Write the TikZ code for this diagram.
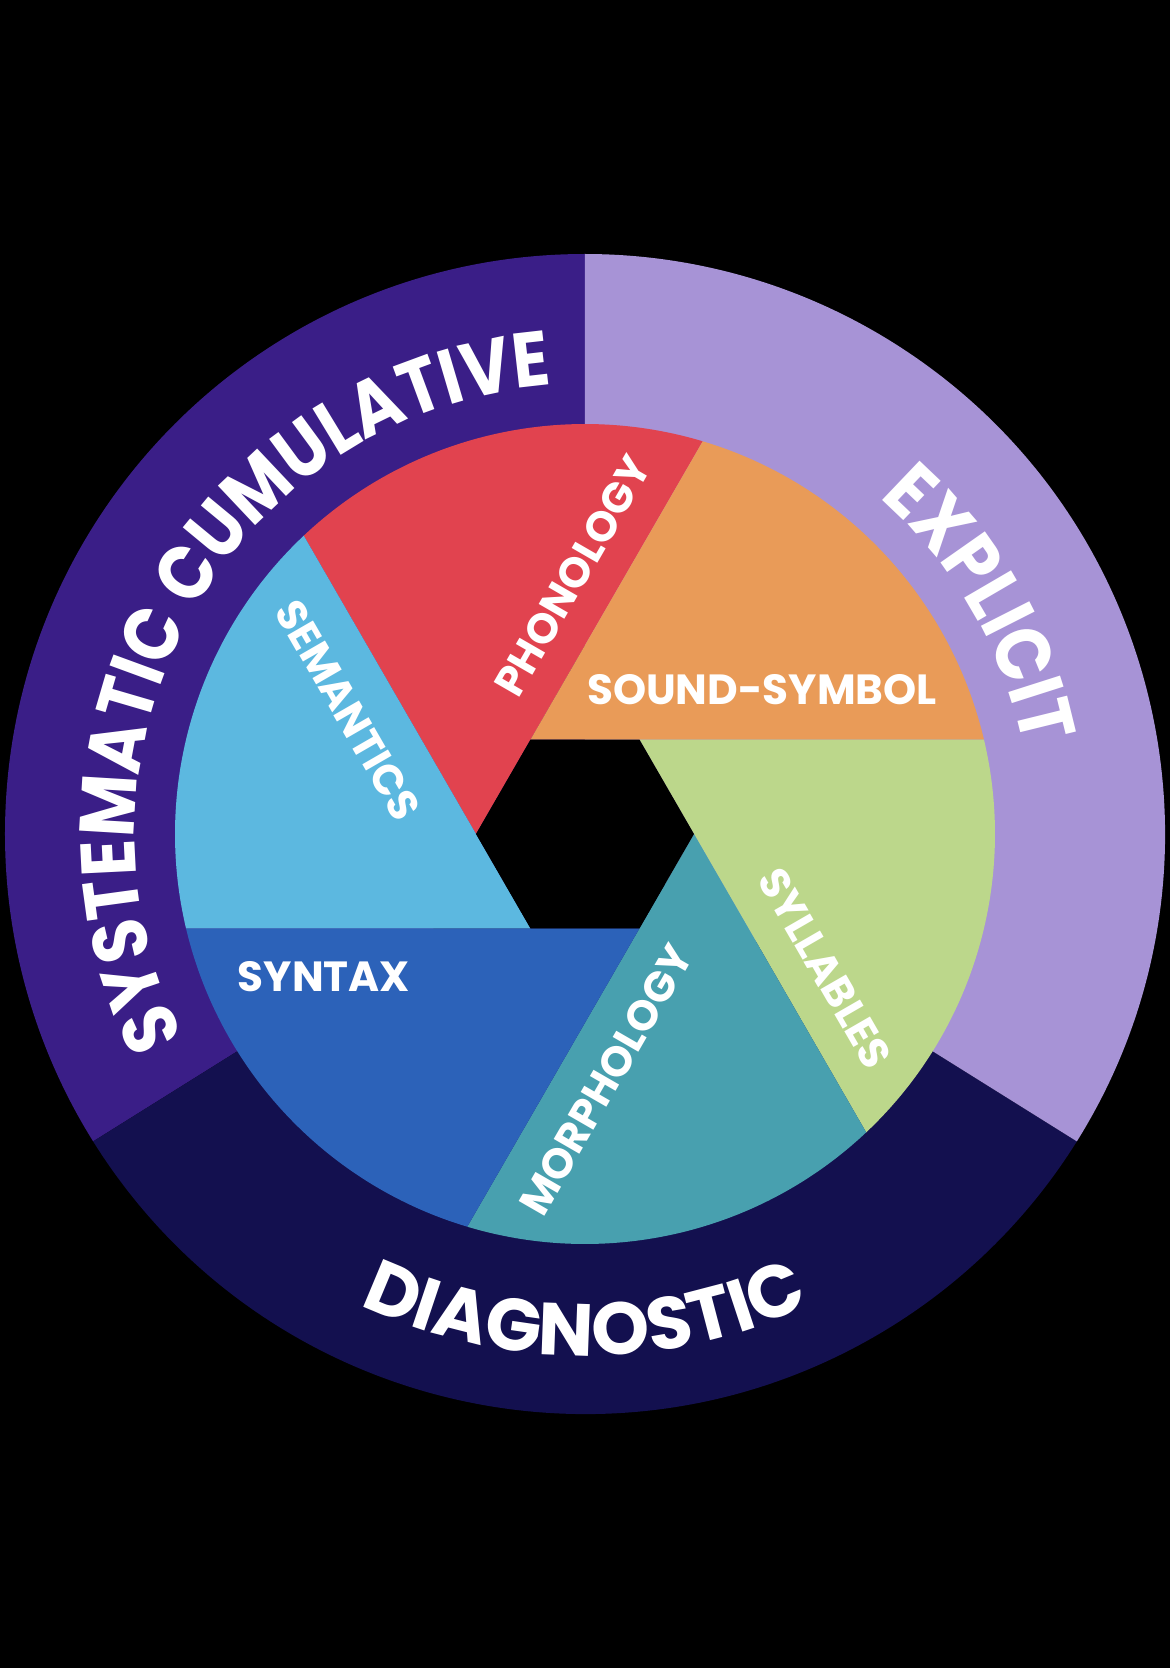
\documentclass[tikz,border=0pt]{standalone}
\usepackage{fontspec}
\setmainfont{Poppins}
\newfontfamily\ringfamily[FakeStretch=0.88]{Poppins}
\usetikzlibrary{decorations.text}

\definecolor{sysPurple}{RGB}{58,30,135}
\definecolor{explLav}{RGB}{167,147,214}
\definecolor{diagNavy}{RGB}{19,16,79}
\definecolor{phonRed}{RGB}{225,67,79}
\definecolor{soundOrange}{RGB}{233,155,88}
\definecolor{syllGreen}{RGB}{188,215,139}
\definecolor{morphTeal}{RGB}{72,160,175}
\definecolor{syntBlue}{RGB}{44,98,185}
\definecolor{semBlue}{RGB}{92,184,224}

\newcommand{\Rout}{5.80}
\newcommand{\Rin}{4.10}
\newcommand{\Rhex}{1.09}
\newcommand{\ringfont}{\ringfamily\bfseries\fontsize{22}{26}\selectfont}
\newcommand{\diagfont}{\bfseries\fontsize{21}{25}\selectfont}

\tikzstyle{bladelabel} = [text=white, font=\bfseries\fontsize{12}{14}\selectfont, inner sep=0pt]
\tikzstyle{ringtext} = [decorate, decoration={text along path, text align=center, text color=white}]

\begin{document}
\begin{tikzpicture}

	% Background
	\fill[black] (-5.85,-8.34) rectangle (5.85,8.34);
	\useasboundingbox (-5.85,-8.34) rectangle (5.85,8.34);

	% Outer ring
	\fill[sysPurple] (0,0) -- (90:\Rout) arc[start angle=90, end angle=212, radius=\Rout] -- cycle;
	\fill[diagNavy] (0,0) -- (212:\Rout) arc[start angle=212, end angle=328, radius=\Rout] -- cycle;
	\fill[explLav] (0,0) -- (-32:\Rout) arc[start angle=-32, end angle=90, radius=\Rout] -- cycle;

	% Aperture blades
	\foreach \a/\col in {180/phonRed, 120/soundOrange, 60/syllGreen, 0/morphTeal, -60/syntBlue, -120/semBlue}
		\fill[\col] (\a:\Rhex) -- ({\a-106.69}:\Rin) arc[start angle={\a-106.69}, end angle={\a-46.69}, radius=\Rin] -- cycle;

	% Hole
	\fill[black] (0:\Rhex) -- (60:\Rhex) -- (120:\Rhex) -- (180:\Rhex) -- (240:\Rhex) -- (300:\Rhex) -- cycle;

	% Blade labels
	\node (phon)  [bladelabel, rotate=60]  at (-0.12,2.58) {PHONOLOGY};
	\node (sound) [bladelabel]             at (1.77,1.44)  {SOUND-SYMBOL};
	\node (syll)  [bladelabel, rotate=-60] at (2.40,-1.34) {SYLLABLES};
	\node (morph) [bladelabel, rotate=60]  at (0.21,-2.46) {MORPHOLOGY};
	\node (synt)  [bladelabel]             at (-2.61,-1.43) {SYNTAX};
	\node (sem)   [bladelabel, rotate=-60] at (-2.37,1.24) {SEMANTICS};

	% Ring texts
	\path[ringtext, decoration={text={|\ringfont|SYSTEMATIC CUMULATIVE}}] (214:4.50) arc[start angle=214, end angle=87, radius=4.50];
	\path[ringtext, decoration={text={|\ringfont|EXPLICIT}}] (65:4.47) arc[start angle=65, end angle=-5, radius=4.47];
	\path[ringtext, decoration={text={|\diagfont|DIAGNOSTIC}}] (-145:5.22) arc[start angle=-145, end angle=-35, radius=5.22];

\end{tikzpicture}
\end{document}
